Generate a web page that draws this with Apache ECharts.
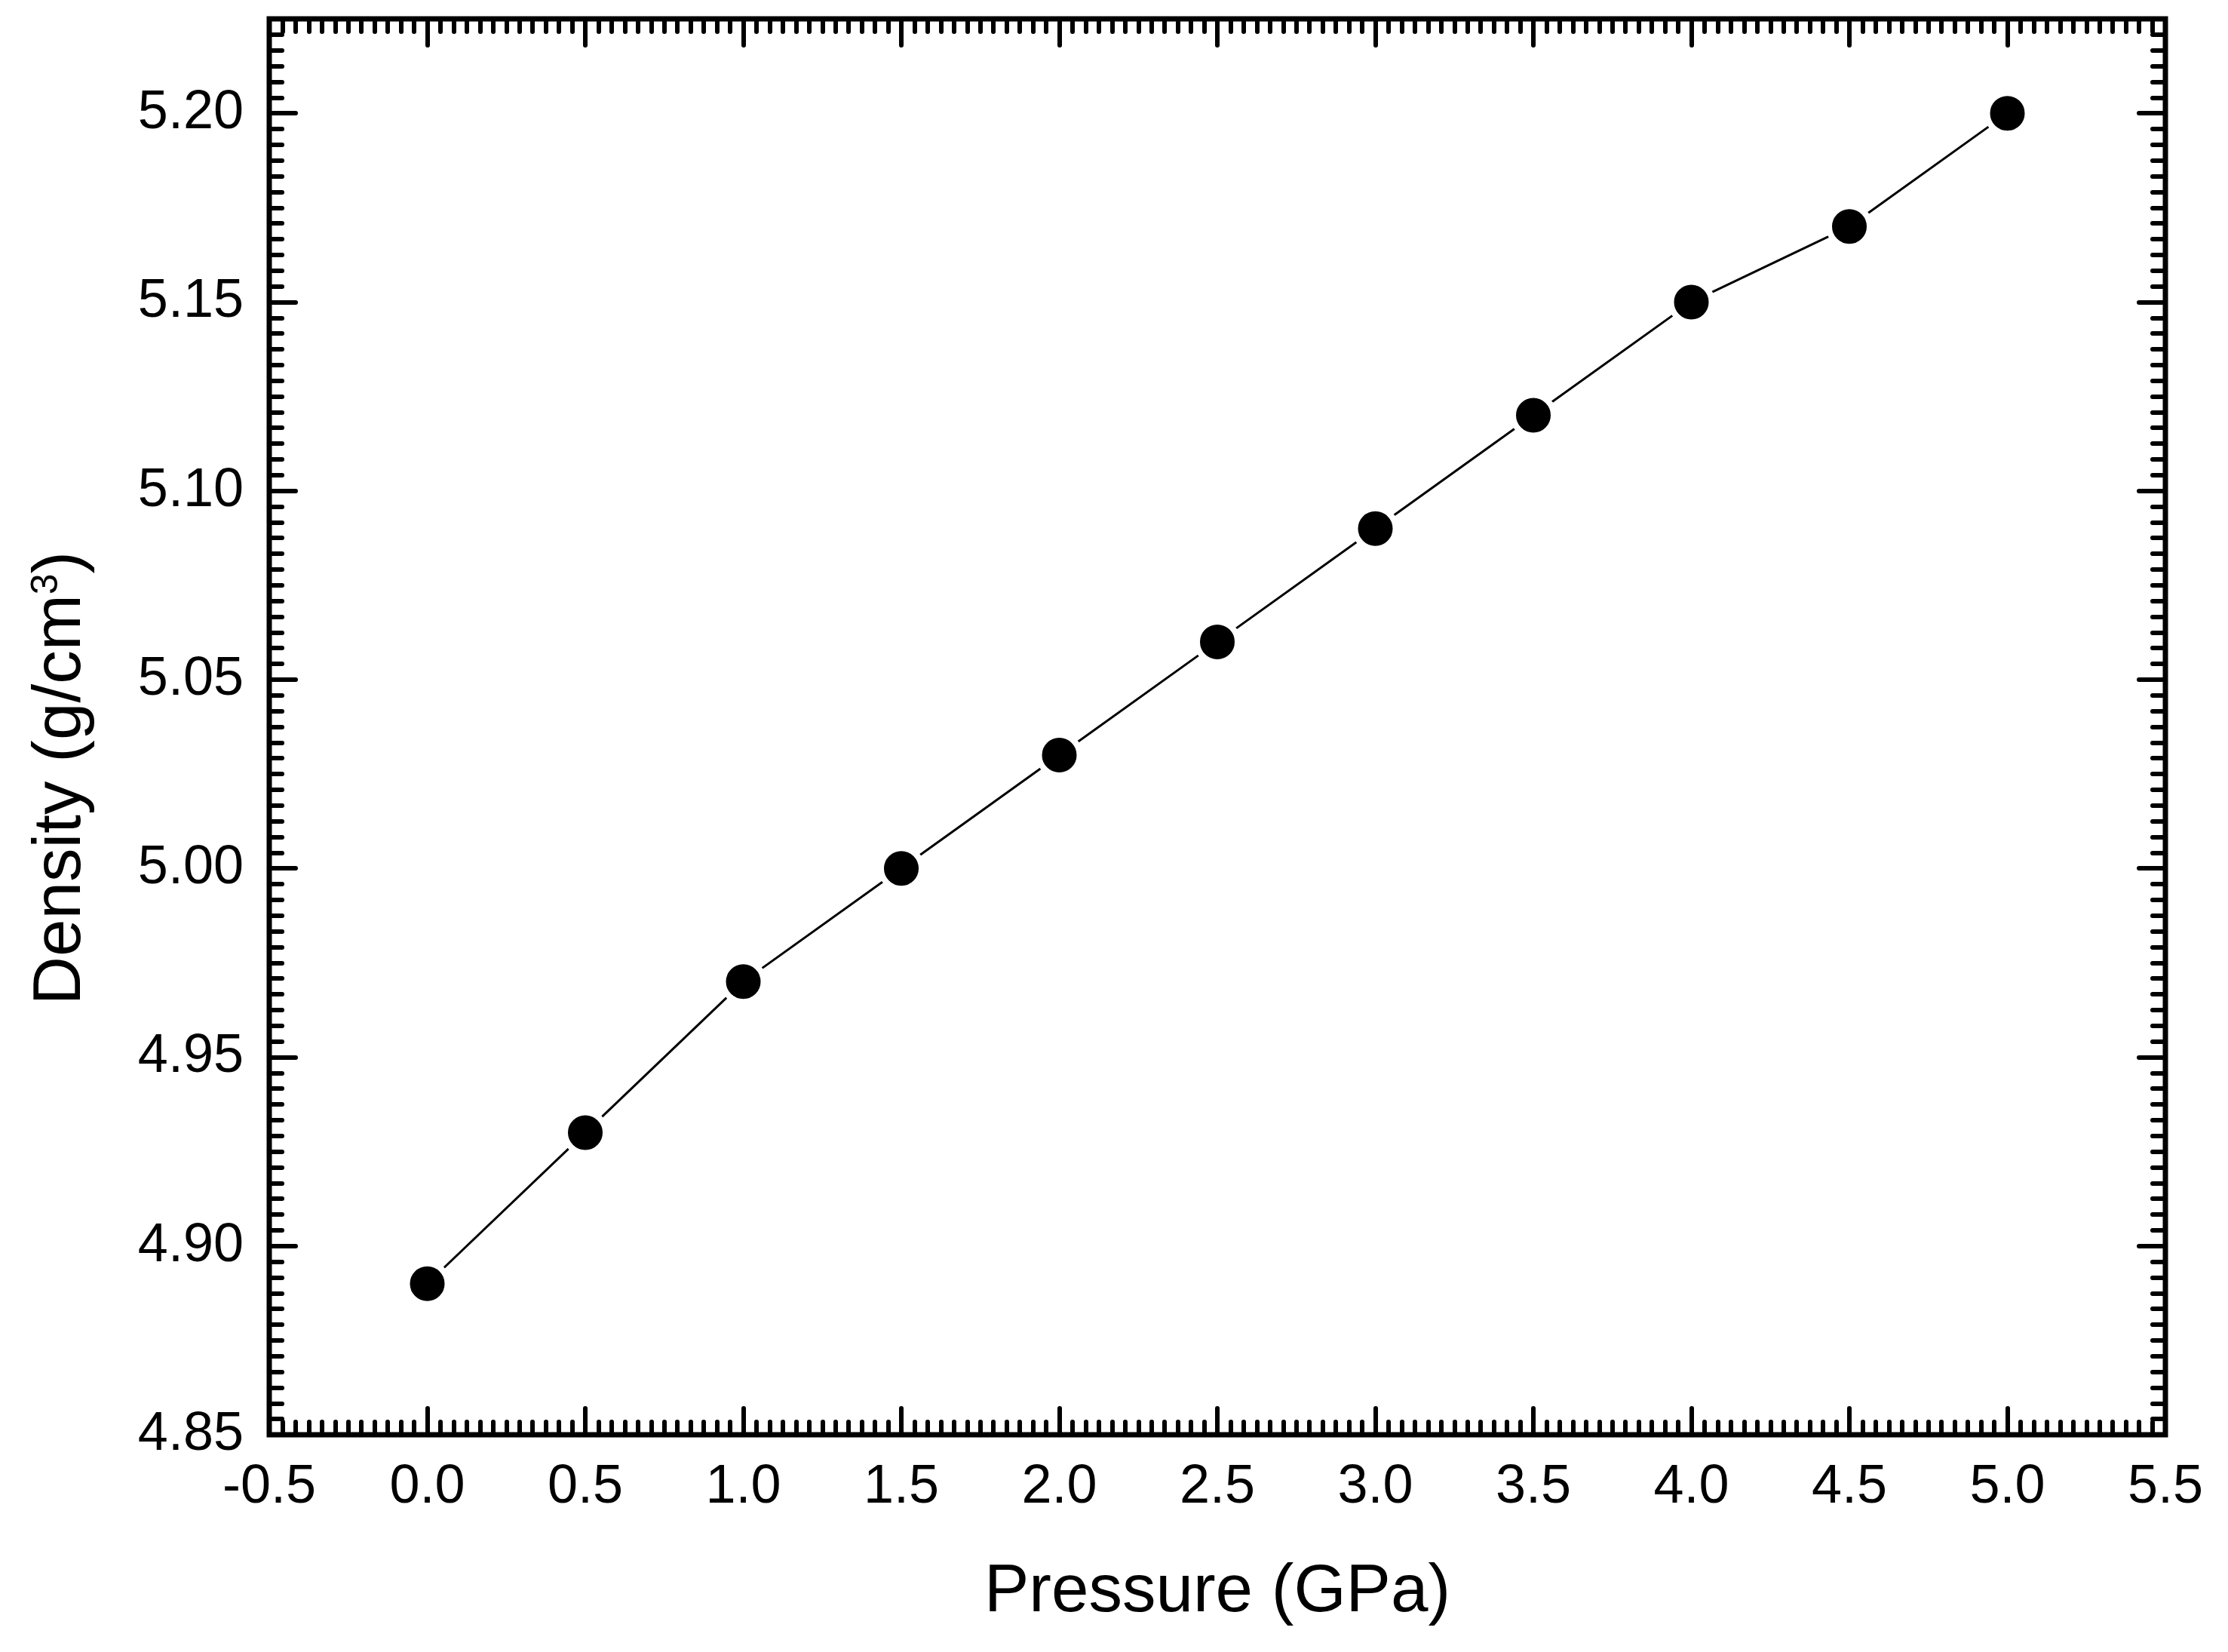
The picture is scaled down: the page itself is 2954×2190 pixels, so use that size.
<!DOCTYPE html>
<html>
<head>
<meta charset="utf-8">
<script src="https://cdn.jsdelivr.net/npm/echarts@6/dist/echarts.min.js"></script>
<style>
html,body{margin:0;padding:0;background:#fff;}
#chart{width:2954px;height:2190px;}
</style>
</head>
<body>
<div id="chart"></div>
<script>
// ---- data ----
const pressure = [0.0, 0.5, 1.0, 1.5, 2.0, 2.5, 3.0, 3.5, 4.0, 4.5, 5.0];
const density  = [4.89, 4.93, 4.97, 5.00, 5.03, 5.06, 5.09, 5.12, 5.15, 5.17, 5.20];
const xTickLabels = ['-0.5','0.0','0.5','1.0','1.5','2.0','2.5','3.0','3.5','4.0','4.5','5.0','5.5'];
const yTickLabels = ['4.85','4.90','4.95','5.00','5.05','5.10','5.15','5.20'];
const xTitle = 'Pressure (GPa)';

const X_MIN = -0.5, X_MAX = 5.5, X_INT = 0.5;
const Y_MIN = 4.85, Y_MAX = 5.225, Y_INT = 0.05;
const MINOR_SPLIT = 12;

const FONT = 'Liberation Sans, Arial, sans-serif';
const chart = echarts.init(document.getElementById('chart'), null, {renderer: 'canvas'});

const majorTick = {show: true, inside: true, length: 35, lineStyle: {color: '#000', width: 6, cap: 'round'}};
const minorTickStyle = {show: true, length: 17, splitNumber: MINOR_SPLIT, lineStyle: {color: '#000', width: 6, cap: 'round'}};

function xFmt(v){ const s = v.toFixed(1); return xTickLabels.indexOf(s) >= 0 ? s : ''; }
function yFmt(v){ const s = v.toFixed(2); return (Math.abs(v - Y_MAX) > 1e-9 && yTickLabels.indexOf(s) >= 0) ? s : ''; }

const baseX = {
  type: 'value', min: X_MIN, max: X_MAX, interval: X_INT,
  axisLine: {show: false, onZero: false},
  splitLine: {show: false},
  axisTick: majorTick,
  minorTick: minorTickStyle,
  minorSplitLine: {show: false}
};
const baseY = {
  type: 'value', min: Y_MIN, max: Y_MAX, interval: Y_INT,
  axisLine: {show: false, onZero: false},
  splitLine: {show: false},
  axisTick: majorTick
};
const minorY = {
  type: 'value', min: Y_MIN, max: Y_MAX, interval: Y_INT / MINOR_SPLIT,
  axisLine: {show: false, onZero: false},
  splitLine: {show: false},
  axisLabel: {show: false},
  axisTick: {show: true, inside: true, length: 17, lineStyle: {color: '#000', width: 6, cap: 'round'}}
};

const option = {
  animation: false,
  backgroundColor: '#fff',
  grid: {
    left: 357, right: 83, top: 25, bottom: 288,
    show: true, borderColor: '#000', borderWidth: 7, backgroundColor: 'transparent'
  },
  xAxis: [
    Object.assign({}, baseX, {
      position: 'bottom',
      axisLabel: {show: true, margin: 34, color: '#000', fontFamily: FONT, fontSize: 72, lineHeight: 72, formatter: xFmt},
      name: xTitle, nameLocation: 'middle', nameGap: 165,
      nameTextStyle: {color: '#000', fontFamily: FONT, fontSize: 89, lineHeight: 89}
    }),
    Object.assign({}, baseX, {position: 'top', axisLabel: {show: false}})
  ],
  yAxis: [
    Object.assign({}, baseY, {
      position: 'left',
      axisLabel: {show: true, margin: 34, color: '#000', fontFamily: FONT, fontSize: 72, lineHeight: 72, formatter: yFmt},
      name: '{a|Density (g/cm}{s|3}{a|)}', nameLocation: 'middle', nameGap: 231,
      nameTextStyle: {
        color: '#000', fontFamily: FONT, fontSize: 89,
        padding: [0, 136, 0, 0],
        rich: {
          a: {color: '#000', fontFamily: FONT, fontSize: 89, lineHeight: 89, verticalAlign: 'bottom'},
          s: {color: '#000', fontFamily: FONT, fontSize: 50, lineHeight: 50, verticalAlign: 'top', padding: [0, 0, 60, 0]}
        }
      }
    }),
    Object.assign({}, baseY, {position: 'right', axisLabel: {show: false}}),
    Object.assign({}, minorY, {position: 'left'}),
    Object.assign({}, minorY, {position: 'right'})
  ],
  series: [{
    type: 'line',
    xAxisIndex: 0, yAxisIndex: 0,
    data: pressure.map((p, i) => [p, density[i]]),
    lineStyle: {color: '#000', width: 3},
    symbol: 'circle', symbolSize: 54,
    itemStyle: {color: '#000', borderColor: '#fff', borderWidth: 8},
    emphasis: {disabled: true},
    z: 3
  }]
};
chart.setOption(option);
</script>
</body>
</html>
